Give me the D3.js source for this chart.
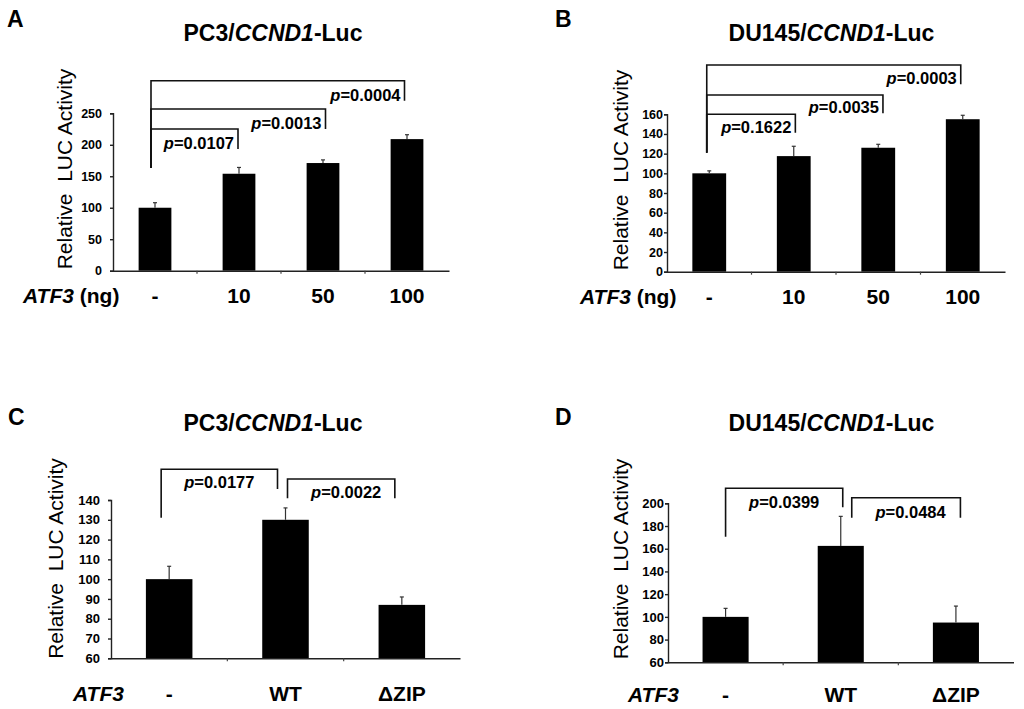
<!DOCTYPE html>
<html>
<head>
<meta charset="utf-8">
<script src="https://cdn.jsdelivr.net/npm/d3@7"></script>
<style>
  body { margin: 0; background: #fff; }
  svg { display: block; font-family: "Liberation Sans", Arial, sans-serif; }
  .ylab { white-space: pre; }
</style>
</head>
<body>
<svg id="fig" width="1024" height="709"></svg>
<script>
(function (d3) {
  'use strict';

  // categories
  const catsDose = ['-', '10', '50', '100'];
  const catsMut = ['-', 'WT', '\u0394ZIP'];

  // series values (mean, error)
  const pc3DoseMean = [100, 154, 171, 209];
  const pc3DoseErr = [8, 10, 5, 7];
  const du145DoseMean = [100, 117.5, 126, 155];
  const du145DoseErr = [2.5, 10, 3.5, 4];
  const pc3MutMean = [100, 130, 87];
  const pc3MutErr = [6.5, 6, 4];
  const du145MutMean = [100, 162.5, 95];
  const du145MutErr = [7.5, 26, 14.5];

  // tick labels
  const ticksA = [0, 50, 100, 150, 200, 250];
  const ticksB = [0, 20, 40, 60, 80, 100, 120, 140, 160];
  const ticksC = [60, 70, 80, 90, 100, 110, 120, 130, 140];
  const ticksD = [60, 80, 100, 120, 140, 160, 180, 200];

  // p values
  const pA = ['0.0107', '0.0013', '0.0004'];
  const pB = ['0.1622', '0.0035', '0.0003'];
  const pC = ['0.0177', '0.0022'];
  const pD = ['0.0399', '0.0484'];

  const svg = d3.select('#fig');

  const drawPanel = (props) => {
    const {
      letter, letterX, letterY, cell, titleX, titleY,
      cats, mean, err, ticks, domain,
      x0, x1, yBottom, yTop, barFrac, tickSize, tickPad, tickFont,
      ylabDx, ylabY, rowX, rowUnit, rowDy, brackets, pvals
    } = props;

    const g = svg.append('g');

    const xScale = d3.scaleBand().domain(cats).range([x0, x1]).padding(0);
    const yScale = d3.scaleLinear().domain(domain).range([yBottom, yTop]);
    const bw = xScale.bandwidth() * barFrac;
    const cx = c => xScale(c) + xScale.bandwidth() / 2;

    // panel letter
    g.append('text')
      .attr('x', letterX).attr('y', letterY)
      .attr('font-size', 23).attr('font-weight', 'bold')
      .text(letter);

    // title
    const t = g.append('text')
      .attr('x', titleX).attr('y', titleY)
      .attr('text-anchor', 'middle')
      .attr('font-size', 23).attr('font-weight', 'bold');
    t.append('tspan').text(cell + '/');
    t.append('tspan').attr('font-style', 'italic').text('CCND1');
    t.append('tspan').text('-Luc');

    // bars
    g.selectAll('rect.bar').data(cats).enter().append('rect')
      .attr('class', 'bar')
      .attr('x', c => cx(c) - bw / 2)
      .attr('width', bw)
      .attr('y', (c, i) => yScale(mean[i]))
      .attr('height', (c, i) => yBottom - yScale(mean[i]))
      .attr('fill', '#000');

    // error bars (upper half)
    const eb = g.selectAll('g.err').data(cats).enter().append('g').attr('class', 'err')
      .attr('stroke', '#333').attr('stroke-width', 1.2);
    eb.append('line')
      .attr('x1', c => cx(c)).attr('x2', c => cx(c))
      .attr('y1', (c, i) => yScale(mean[i]))
      .attr('y2', (c, i) => yScale(mean[i] + err[i]));
    eb.append('line')
      .attr('x1', c => cx(c) - 2).attr('x2', c => cx(c) + 2)
      .attr('y1', (c, i) => yScale(mean[i] + err[i]))
      .attr('y2', (c, i) => yScale(mean[i] + err[i]));

    // y axis
    const yAxisG = g.append('g')
      .attr('transform', `translate(${x0},0)`)
      .call(d3.axisLeft(yScale).tickValues(ticks).tickSize(tickSize).tickPadding(tickPad));
    yAxisG.selectAll('text')
      .attr('font-size', tickFont).attr('font-weight', 'bold')
      .attr('font-family', '"Liberation Sans", Arial, sans-serif').attr('fill', '#000');
    yAxisG.selectAll('line, path').attr('stroke', '#222').attr('stroke-width', 1.4);

    // x axis
    const xAxisG = g.append('g')
      .attr('transform', `translate(0,${yBottom})`)
      .call(d3.axisBottom(xScale).tickSize(0).tickPadding(rowDy - 15));
    xAxisG.select('.domain').attr('stroke', '#222').attr('stroke-width', 1.4);
    xAxisG.selectAll('text')
      .attr('font-size', 21).attr('font-weight', 'bold')
      .attr('font-family', '"Liberation Sans", Arial, sans-serif').attr('fill', '#000');
    // small marks at category boundaries
    xAxisG.selectAll('line.sep').data(cats.slice(1)).enter().append('line')
      .attr('class', 'sep')
      .attr('x1', c => xScale(c)).attr('x2', c => xScale(c))
      .attr('y1', 0).attr('y2', 3)
      .attr('stroke', '#444').attr('stroke-width', 1.2);

    // row label
    const rl = g.append('text')
      .attr('x', rowX).attr('y', yBottom + rowDy)
      .attr('font-size', 21).attr('font-weight', 'bold');
    rl.append('tspan').attr('font-style', 'italic').text('ATF3');
    if (rowUnit) rl.append('tspan').text(' ' + rowUnit);

    // y label
    g.append('text')
      .attr('class', 'ylab')
      .attr('transform', `translate(${x0 + ylabDx},${ylabY}) rotate(-90)`)
      .attr('text-anchor', 'middle')
      .attr('font-size', 21)
      .text('Relative  LUC Activity');

    // brackets
    const bg = g.append('g').attr('fill', 'none').attr('stroke', '#111').attr('stroke-width', 1.6);
    brackets.forEach((b, i) => {
      const xa = cx(cats[b.from]) + b.dxa;
      const xb = cx(cats[b.to]) + b.dxb;
      bg.append('path')
        .attr('d', `M${xa},${b.top + b.legA}V${b.top}H${xb}V${b.top + b.legB}`);
      const lab = g.append('text')
        .attr('font-size', 16.5).attr('font-weight', 'bold');
      if (b.anchor === 'end') {
        lab.attr('x', xb - 4).attr('y', b.top + b.legB).attr('text-anchor', 'end');
      } else {
        lab.attr('x', (xa + xb) / 2 + (b.labDx || 0)).attr('y', b.top + b.labDy).attr('text-anchor', 'middle');
      }
      lab.append('tspan').attr('font-style', 'italic').text('p');
      lab.append('tspan').text('=' + pvals[i]);
    });
  };

  drawPanel({
    letter: 'A', letterX: 7, letterY: 27, cell: 'PC3', titleX: 273, titleY: 41,
    cats: catsDose, mean: pc3DoseMean, err: pc3DoseErr, ticks: ticksA, domain: [0, 250],
    x0: 113, x1: 449, yBottom: 270.7, yTop: 113.3, barFrac: 0.39,
    tickSize: 3, tickPad: 8, tickFont: 12.5,
    ylabDx: -41, ylabY: 169, rowX: 23, rowUnit: '(ng)', rowDy: 32,
    pvals: pA,
    brackets: [
      { from: 0, to: 1, dxa: -4, dxb: -1, top: 129, legA: 39, legB: 20, anchor: 'end' },
      { from: 0, to: 2, dxa: -4, dxb: 2.5, top: 109, legA: 59, legB: 20, anchor: 'end' },
      { from: 0, to: 3, dxa: -4, dxb: -2.5, top: 80.7, legA: 87.3, legB: 20, anchor: 'end' }
    ]
  });

  drawPanel({
    letter: 'B', letterX: 555, letterY: 27, cell: 'DU145', titleX: 831.5, titleY: 41,
    cats: catsDose, mean: du145DoseMean, err: du145DoseErr, ticks: ticksB, domain: [0, 160],
    x0: 667, x1: 1005, yBottom: 271.7, yTop: 114.3, barFrac: 0.4,
    tickSize: 3, tickPad: 1, tickFont: 12.5,
    ylabDx: -39, ylabY: 170, rowX: 580, rowUnit: '(ng)', rowDy: 32,
    pvals: pB,
    brackets: [
      { from: 0, to: 1, dxa: -2.5, dxb: 1.6, top: 114.3, legA: 38.4, legB: 18.4, anchor: 'end' },
      { from: 0, to: 2, dxa: -2.5, dxb: 4.7, top: 95, legA: 57.7, legB: 18.3, anchor: 'end' },
      { from: 0, to: 3, dxa: -2.5, dxb: -2, top: 65, legA: 87.7, legB: 19.3, anchor: 'end' }
    ]
  });

  drawPanel({
    letter: 'C', letterX: 8, letterY: 425, cell: 'PC3', titleX: 273, titleY: 431,
    cats: catsMut, mean: pc3MutMean, err: pc3MutErr, ticks: ticksC, domain: [60, 140],
    x0: 111, x1: 460, yBottom: 658.3, yTop: 500, barFrac: 0.4,
    tickSize: 3, tickPad: 8, tickFont: 13,
    ylabDx: -48, ylabY: 558.5, rowX: 73, rowUnit: null, rowDy: 42.7,
    pvals: pC,
    brackets: [
      { from: 0, to: 1, dxa: -8, dxb: -8, top: 469.3, legA: 48.4, legB: 19.7, labDy: 19 },
      { from: 1, to: 2, dxa: 2, dxb: -7, top: 479, legA: 19.3, legB: 19.3, labDy: 19.3, labDx: 5 }
    ]
  });

  drawPanel({
    letter: 'D', letterX: 555, letterY: 425, cell: 'DU145', titleX: 831.5, titleY: 431,
    cats: catsMut, mean: du145MutMean, err: du145MutErr, ticks: ticksD, domain: [60, 200],
    x0: 668, x1: 1013.5, yBottom: 662.3, yTop: 503.3, barFrac: 0.4,
    tickSize: 3, tickPad: 1, tickFont: 13,
    ylabDx: -40, ylabY: 559, rowX: 628, rowUnit: null, rowDy: 39.4,
    pvals: pD,
    brackets: [
      { from: 0, to: 1, dxa: 0, dxb: 2, top: 488.3, legA: 48.4, legB: 19, labDy: 20 },
      { from: 1, to: 2, dxa: 11, dxb: 4.5, top: 497.7, legA: 20, legB: 20, labDy: 20.6, labDx: 4.5 }
    ]
  });

}(d3));
</script>
</body>
</html>
